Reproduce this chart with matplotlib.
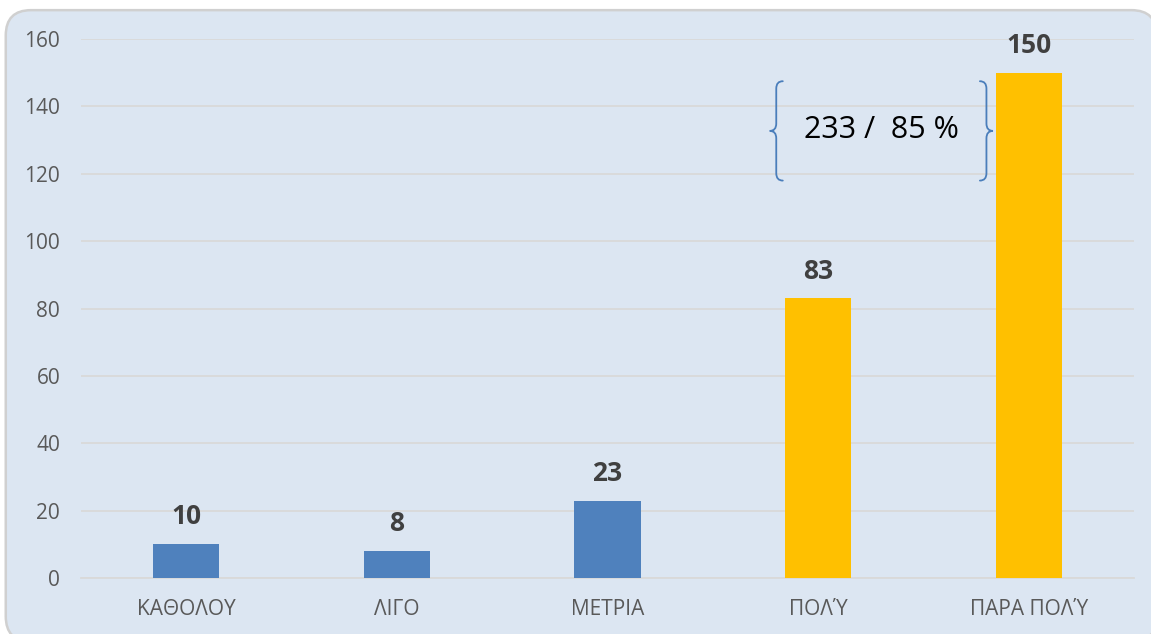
import matplotlib.pyplot as plt
from matplotlib.patches import FancyBboxPatch, PathPatch
from matplotlib.path import Path

plt.rcParams["font.family"] = ["Open Sans", "DejaVu Sans"]

categories = ["ΚΑΘΟΛΟΥ", "ΛΙΓΟ", "ΜΕΤΡΙΑ", "ΠΟΛΎ", "ΠΑΡΑ ΠΟΛΎ"]
values = [10, 8, 23, 83, 150]
bar_colors = ["#4f81bd", "#4f81bd", "#4f81bd", "#ffc000", "#ffc000"]
yticks = [0, 20, 40, 60, 80, 100, 120, 140, 160]

PANEL = "#dce6f2"
GRID = "#d9d9d9"
TICK = "#595959"
LABEL = "#404040"
BRACE = "#4a7ebb"


def brace(ax, x_tip, y0, y1, w, r, left=True):
    """curly brace with its point at x_tip, spanning y0..y1 (data units)"""
    s = 1 if left else -1
    xm = x_tip + s * w / 2
    xe = x_tip + s * w
    ym = (y0 + y1) / 2
    verts = [(xe, y1), (xm, y1), (xm, y1 - r),
             (xm, ym + r), (xm, ym), (x_tip, ym),
             (xm, ym), (xm, ym - r),
             (xm, y0 + r), (xm, y0), (xe, y0)]
    codes = [Path.MOVETO, Path.CURVE3, Path.CURVE3,
             Path.LINETO, Path.CURVE3, Path.CURVE3,
             Path.CURVE3, Path.CURVE3,
             Path.LINETO, Path.CURVE3, Path.CURVE3]
    ax.add_patch(PathPatch(Path(verts, codes), fill=False, edgecolor=BRACE,
                           lw=1.3, capstyle="round", zorder=5))


fig = plt.figure(figsize=(11.51, 6.34), dpi=100)
fig.patch.set_facecolor("white")

# fondo redondeado del grafico (sale por la derecha y por abajo)
panel = FancyBboxPatch((0.005, -0.012), 1.0, 0.996, transform=fig.transFigure,
                       boxstyle="round,pad=0,rounding_size=0.022",
                       facecolor=PANEL, edgecolor="#d0d0d0", lw=1.8,
                       mutation_aspect=1151 / 634, zorder=-10)
fig.patches.append(panel)

ax = fig.add_axes([0.0704, 0.0883, 0.9149, 0.850])
ax.set_facecolor("none")

x = range(len(categories))
ax.bar(x, values, width=0.314, color=bar_colors, zorder=3)
for xi, v in zip(x, values):
    ax.annotate(f"{v}", xy=(xi, v), xytext=(0, 10), textcoords="offset points",
                ha="center", va="bottom", fontsize=19, fontweight="bold",
                color=LABEL)

ax.set_xlim(-0.5, len(categories) - 0.5)
ax.set_ylim(0, 160)
ax.set_yticks(yticks)
ax.set_xticks(list(x))
ax.set_xticklabels(categories)
ax.tick_params(axis="both", length=0, colors=TICK, labelsize=15)
ax.tick_params(axis="y", pad=15)
ax.tick_params(axis="x", pad=15)
ax.grid(axis="y", color=GRID, lw=1.3, zorder=0)
for side in ("top", "right", "left"):
    ax.spines[side].set_visible(False)
ax.spines["bottom"].set_color(GRID)
ax.spines["bottom"].set_linewidth(1.3)

# agrupacion de las dos categorias altas
top_sum = values[3] + values[4]
share = round(100 * top_sum / sum(values))
brace(ax, 2.77, 118, 147.5, 0.062, 2.2, left=True)
brace(ax, 3.83, 118, 147.5, 0.062, 2.2, left=False)
ax.text(3.3, 133, f"{top_sum} /  {share} %", ha="center", va="center",
        fontsize=22, color="black", zorder=5)

fig.savefig("out.png", dpi=100)
